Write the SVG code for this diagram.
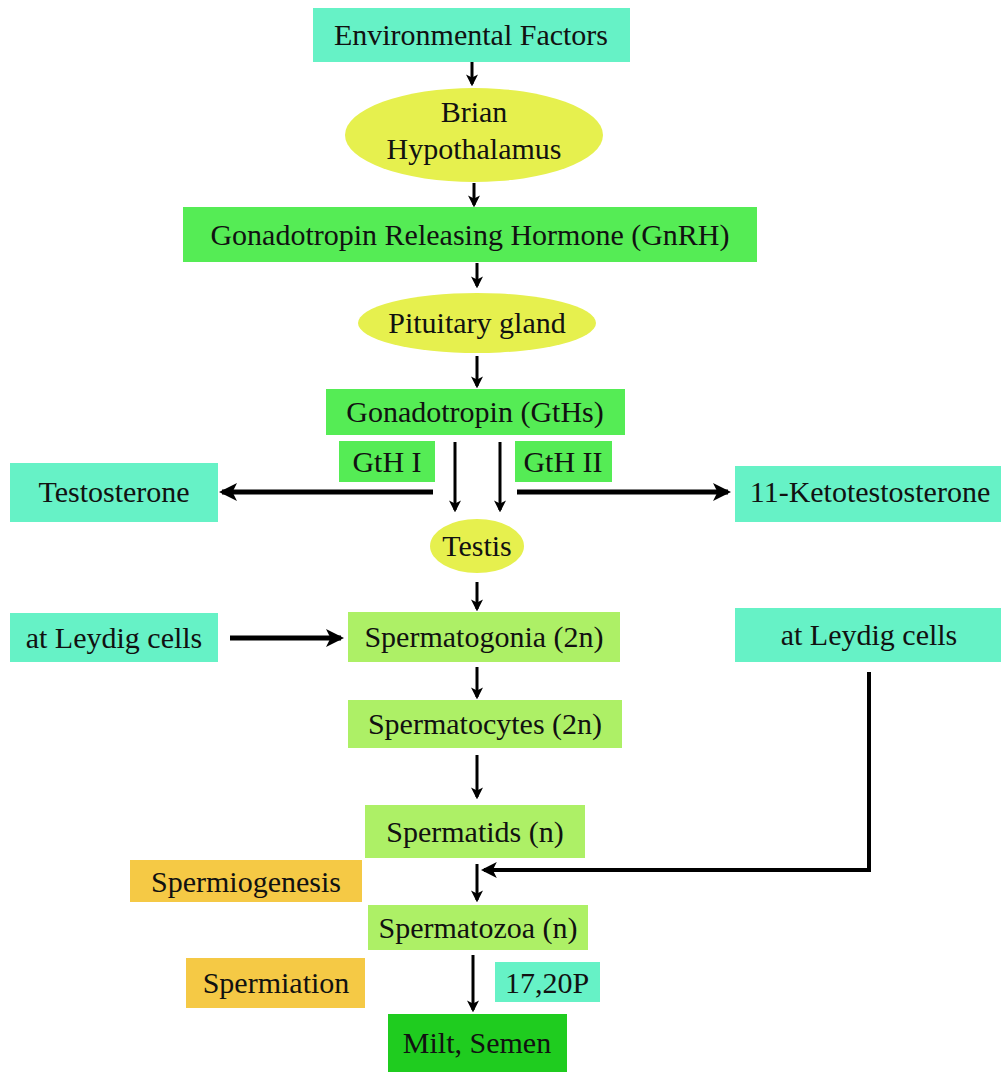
<svg xmlns="http://www.w3.org/2000/svg" width="1001" height="1072" viewBox="0 0 1001 1072">
<style>
text{font-size:30px;fill:#111;text-anchor:middle}
.aqua{fill:#66f2c6}
.green{fill:#55ec55}
.lgreen{fill:#adf066}
.yellow{fill:#e6f04e}
.orange{fill:#f5c945}
.dgreen{fill:#1fcc1f}
.ln{stroke:#000;fill:none}
</style>
<defs>
<marker id="ah" markerWidth="4" markerHeight="4" refX="3.2" refY="2" orient="auto" markerUnits="strokeWidth">
<path d="M0,0 L4,2 L0,4 L1,2 Z" fill="#000"/>
</marker>
<marker id="ahb" markerWidth="3.6" markerHeight="3.6" refX="3" refY="1.8" orient="auto" markerUnits="strokeWidth">
<path d="M0,0 L3.6,1.8 L0,3.6 L0.9,1.8 Z" fill="#000"/>
</marker>
</defs>
<rect width="1001" height="1072" fill="#fff"/>
<g id="connectors">
<line class="ln" x1="472" y1="62" x2="472" y2="84" stroke-width="3" marker-end="url(#ah)"/>
<line class="ln" x1="474" y1="183" x2="474" y2="205" stroke-width="3" marker-end="url(#ah)"/>
<line class="ln" x1="477" y1="263" x2="477" y2="286" stroke-width="3" marker-end="url(#ah)"/>
<line class="ln" x1="477" y1="356" x2="477" y2="386" stroke-width="3" marker-end="url(#ah)"/>
<line class="ln" x1="455" y1="442" x2="455" y2="510" stroke-width="3" marker-end="url(#ah)"/>
<line class="ln" x1="500" y1="442" x2="500" y2="510" stroke-width="3" marker-end="url(#ah)"/>
<line class="ln" x1="433" y1="492" x2="222" y2="492" stroke-width="5" marker-end="url(#ahb)"/>
<line class="ln" x1="517" y1="492" x2="728" y2="492" stroke-width="5" marker-end="url(#ahb)"/>
<line class="ln" x1="477" y1="582" x2="477" y2="609" stroke-width="3" marker-end="url(#ah)"/>
<line class="ln" x1="230" y1="638" x2="341" y2="638" stroke-width="5" marker-end="url(#ahb)"/>
<line class="ln" x1="477" y1="667" x2="477" y2="697" stroke-width="3" marker-end="url(#ah)"/>
<line class="ln" x1="477" y1="755" x2="477" y2="797" stroke-width="3" marker-end="url(#ah)"/>
<line class="ln" x1="477" y1="864" x2="477" y2="900" stroke-width="3" marker-end="url(#ah)"/>
<polyline class="ln" points="869,672 869,870 484,870" stroke-width="4" marker-end="url(#ah)"/>
<line class="ln" x1="473" y1="955" x2="473" y2="1010" stroke-width="3" marker-end="url(#ah)"/>
</g>
<g font-family="Liberation Serif, Tinos, Times New Roman, DejaVu Serif, serif">
<g id="environmental-factors"><rect class="aqua" x="313" y="8" width="317" height="54"/><text x="471" y="45">Environmental Factors</text></g>
<g id="hypothalamus"><ellipse class="yellow" cx="474" cy="135" rx="129" ry="47"/><text x="474" y="122">Brian</text><text x="474" y="159">Hypothalamus</text></g>
<g id="gnrh"><rect class="green" x="183" y="207" width="574" height="55"/><text x="470" y="245">Gonadotropin Releasing Hormone (GnRH)</text></g>
<g id="pituitary"><ellipse class="yellow" cx="477" cy="323" rx="119" ry="30"/><text x="477" y="333">Pituitary gland</text></g>
<g id="gths"><rect class="green" x="326" y="389" width="299" height="46"/><text x="475" y="422">Gonadotropin (GtHs)</text></g>
<g id="gth1"><rect class="green" x="339" y="441" width="96" height="41"/><text x="387" y="472">GtH I</text></g>
<g id="gth2"><rect class="green" x="515" y="441" width="97" height="41"/><text x="563" y="472">GtH II</text></g>
<g id="testosterone"><rect class="aqua" x="10" y="463" width="208" height="59"/><text x="114" y="502">Testosterone</text></g>
<g id="ketotestosterone"><rect class="aqua" x="735" y="466" width="266" height="56"/><text x="870" y="502">11-Ketotestosterone</text></g>
<g id="testis"><ellipse class="yellow" cx="477" cy="546" rx="47" ry="27"/><text x="477" y="556">Testis</text></g>
<g id="leydig-left"><rect class="aqua" x="10" y="613" width="208" height="49"/><text x="114" y="648">at Leydig cells</text></g>
<g id="spermatogonia"><rect class="lgreen" x="348" y="612" width="272" height="50"/><text x="484" y="647">Spermatogonia (2n)</text></g>
<g id="leydig-right"><rect class="aqua" x="735" y="608" width="266" height="54"/><text x="869" y="645">at Leydig cells</text></g>
<g id="spermatocytes"><rect class="lgreen" x="348" y="700" width="274" height="48"/><text x="485" y="734">Spermatocytes (2n)</text></g>
<g id="spermatids"><rect class="lgreen" x="365" y="805" width="220" height="53"/><text x="475" y="842">Spermatids (n)</text></g>
<g id="spermiogenesis"><rect class="orange" x="130" y="860" width="232" height="42"/><text x="246" y="892">Spermiogenesis</text></g>
<g id="spermatozoa"><rect class="lgreen" x="368" y="905" width="220" height="45"/><text x="478" y="938">Spermatozoa (n)</text></g>
<g id="spermiation"><rect class="orange" x="186" y="958" width="179" height="50"/><text x="276" y="993">Spermiation</text></g>
<g id="p1720"><rect class="aqua" x="495" y="962" width="105" height="40"/><text x="547" y="993">17,20P</text></g>
<g id="milt"><rect class="dgreen" x="388" y="1014" width="179" height="58"/><text x="477" y="1053">Milt, Semen</text></g>
</g>
</svg>
